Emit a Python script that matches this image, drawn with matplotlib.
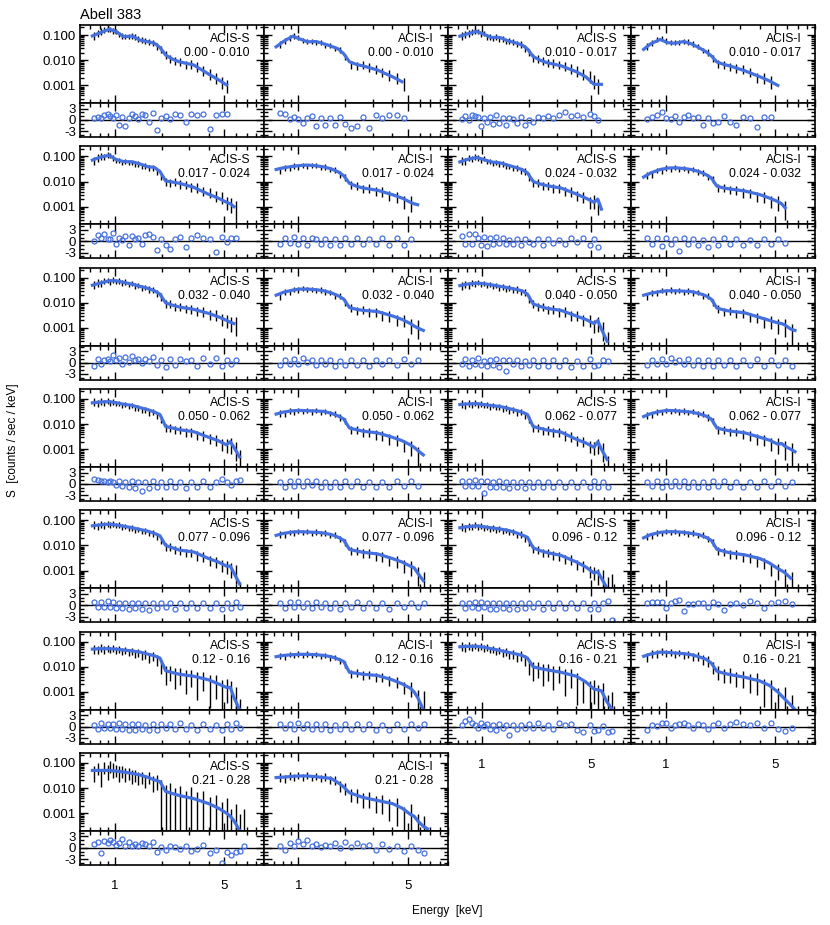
import numpy as np
import matplotlib
matplotlib.use("Agg")
import matplotlib.pyplot as plt
from matplotlib.ticker import FixedLocator, NullFormatter, FormatStrFormatter

plt.rcParams['font.family'] = ['Liberation Sans', 'DejaVu Sans']

# energy grids (keV)
E_MOD = [0.72, 0.80, 0.92, 1.02, 1.14, 1.30, 1.45, 1.62, 1.80, 1.95, 2.12,
         2.35, 2.60, 3.20, 4.00, 4.60, 5.20, 5.50, 5.80, 6.30, 6.70]
E_S = [0.74, 0.78, 0.82, 0.86, 0.90, 0.94, 0.98, 1.02, 1.07, 1.12, 1.17, 1.23,
       1.29, 1.35, 1.42, 1.49, 1.57, 1.66, 1.76, 1.87, 1.99, 2.12, 2.27, 2.44,
       2.63, 2.85, 3.10, 3.38, 3.70, 4.05, 4.45, 4.90, 5.20, 5.55, 5.95, 6.35, 6.75]
E_I = [0.76, 0.82, 0.88, 0.94, 1.00, 1.07, 1.14, 1.22, 1.30, 1.39, 1.49, 1.60,
       1.72, 1.85, 2.00, 2.17, 2.36, 2.58, 2.83, 3.12, 3.45, 3.82, 4.25, 4.72,
       5.25, 5.80, 6.40]

# fractional 1-sigma errors of the data points
ERR_S_A = [0.35, 0.32, 0.3, 0.28, 0.26, 0.25, 0.25, 0.24, 0.24, 0.24, 0.24, 0.24,
           0.24, 0.25, 0.25, 0.26, 0.26, 0.27, 0.28, 0.3, 0.32, 0.35, 0.35, 0.35,
           0.36, 0.37, 0.38, 0.4, 0.42, 0.44, 0.46, 0.5, 0.55, 0.6, 0.7, 0.8, 0.9]
ERR_S_B = [0.4, 0.35, 0.35, 0.32, 0.3, 0.3, 0.3, 0.3, 0.3, 0.3, 0.3, 0.32,
           0.32, 0.34, 0.35, 0.36, 0.38, 0.4, 0.42, 0.45, 0.6, 0.7, 0.6, 0.75,
           0.65, 0.8, 0.65, 0.85, 0.7, 0.9, 0.8, 1.2, 0.8, 1.3, 1.0, 1.5, 1.5]
ERR_S_C = [0.6, 0.5, 0.7, 0.5, 0.6, 0.5, 0.6, 0.5, 0.6, 0.5, 0.55, 0.5,
           0.55, 0.5, 0.55, 0.5, 0.55, 0.5, 0.6, 0.6, 1.5, 1.5, 1.3, 1.6,
           1.3, 1.6, 1.4, 1.7, 1.4, 1.8, 1.5, 2.0, 1.6, 2.0, 1.8, 2.0, 2.0]
ERR_I_A = [0.3, 0.27, 0.25, 0.24, 0.24, 0.23, 0.23, 0.23, 0.23, 0.24, 0.24, 0.25,
           0.26, 0.28, 0.3, 0.35, 0.35, 0.36, 0.38, 0.4, 0.42, 0.45, 0.48, 0.52,
           0.6, 0.7, 0.8]
ERR_I_B = [0.4, 0.35, 0.33, 0.32, 0.3, 0.3, 0.3, 0.3, 0.32, 0.33, 0.35, 0.37,
           0.4, 0.45, 0.5, 0.55, 0.55, 0.6, 0.6, 0.65, 0.7, 0.75, 0.85, 0.95,
           1.1, 1.3, 1.5]

# ---- 0.00 - 0.010
MOD_S1 = [0.092, 0.12, 0.17, 0.14, 0.086, 0.090, 0.063, 0.055, 0.047, 0.032, 0.016,
          0.011, 0.0086, 0.0065, 0.0028, 0.0017, 0.00105]
DAT_S1 = [0.10, 0.12, 0.14, 0.16, 0.18, 0.17, 0.15, 0.14, 0.11, 0.095, 0.09, 0.09,
          0.095, 0.085, 0.072, 0.066, 0.06, 0.055, 0.05, 0.037, 0.029, 0.017, 0.012,
          0.010, 0.0088, 0.0070, 0.0072, 0.0058, 0.0042, 0.0030, 0.0022, 0.0015, 0.0011]
RES_S1 = [0.5, 0.8, 0.6, 1.2, 1.6, 1.0, 0.5, 1.3, -1.2, 0.9, -1.5, 0.4, 1.5, 1.1, 0.3,
          1.7, 1.2, -0.5, 1.8, -2.6, 0.6, 1.0, 0.3, 1.6, 1.4, -0.5, 1.5, 1.3, 1.7, -2.4,
          1.2, 1.5, 1.7]
MOD_I1 = [0.034, 0.055, 0.090, 0.070, 0.054, 0.055, 0.045, 0.036, 0.028, 0.018, 0.0087,
          0.0068, 0.0059, 0.0041, 0.0022, 0.0014]
DAT_I1 = [0.045, 0.060, 0.080, 0.095, 0.080, 0.060, 0.055, 0.058, 0.050, 0.051, 0.040,
          0.039, 0.030, 0.027, 0.014, 0.0070, 0.0062, 0.0068, 0.0056, 0.0046, 0.0036,
          0.0028, 0.0021, 0.0013]
RES_I1 = [1.8, 1.7, 0.3, 0.8, 0.3, -0.8, 0.5, 1.0, -1.5, 0.4, -1.2, 0.6, -1.3, 0.8,
          -1.0, -2.0, -1.6, 0.9, -2.0, 1.2, 0.6, 1.4, 1.2, 0.6]

# ---- 0.010 - 0.017
MOD_S2 = [0.090, 0.11, 0.14, 0.11, 0.080, 0.080, 0.060, 0.050, 0.040, 0.028, 0.014,
          0.010, 0.008, 0.006, 0.0035, 0.0022, 0.0011, 0.0011, 0.0011]
DAT_S2 = [0.10, 0.11, 0.12, 0.14, 0.15, 0.14, 0.11, 0.12, 0.085, 0.085, 0.075, 0.085,
          0.07, 0.072, 0.058, 0.062, 0.055, 0.045, 0.044, 0.031, 0.021, 0.013, 0.012,
          0.0098, 0.0085, 0.0078, 0.0070, 0.0062, 0.0050, 0.0040, 0.0030, 0.0024,
          0.0016, 0.0011]
RES_S2 = [0.3, 1.0, 0.1, 1.2, 1.0, 0.8, -1.5, 0.6, -0.4, 0.9, -1.0, 1.2, -0.7, 0.4,
          -1.3, 0.6, 0.3, -0.8, 0.9, -1.4, 0.0, -0.6, 0.9, 0.5, 1.0, 0.4, 1.4, 2.2,
          1.0, 1.2, 0.8, 1.6, 1.0, 0.0]
MOD_I2 = [0.027, 0.045, 0.067, 0.050, 0.047, 0.055, 0.045, 0.032, 0.022, 0.015, 0.0085,
          0.0068, 0.0058, 0.0038, 0.0022, 0.0015, 0.0010]
DAT_I2 = [0.036, 0.050, 0.068, 0.075, 0.060, 0.050, 0.052, 0.050, 0.058, 0.055, 0.046,
          0.036, 0.025, 0.021, 0.012, 0.0078, 0.0072, 0.0058, 0.0050, 0.0048, 0.0036,
          0.0022, 0.0021, 0.0015]
RES_I2 = [0.2, 0.8, 1.2, 2.0, 0.5, 0.3, 1.0, -0.5, 0.9, 1.3, 0.6, 0.8, -1.2, 0.4,
          -0.8, -0.5, 1.0, -0.6, -1.4, 0.8, 0.6, -1.8, 0.9, 0.7]

# ---- 0.017 - 0.024
MOD_S3 = [0.071, 0.09, 0.11, 0.075, 0.062, 0.060, 0.050, 0.039, 0.036, 0.025, 0.0105,
          0.0095, 0.0085, 0.0059, 0.0031, 0.0022, 0.0015, 0.0013, 0.0010]
DAT_S3 = [0.068, 0.090, 0.10, 0.095, 0.12, 0.11, 0.09, 0.072, 0.07, 0.06, 0.066, 0.058,
          0.06, 0.05, 0.05, 0.041, 0.042, 0.035, 0.036, 0.025, 0.017, 0.0098, 0.0094,
          0.0098, 0.0082, 0.0080, 0.0062, 0.0060, 0.0044, 0.0040, 0.0028, 0.0026,
          0.0016, 0.0014, 0.0010]
RES_S3 = [0.0, 1.6, 1.0, 2.0, 0.6, 0.7, 2.2, -0.8, 0.9, 0.3, 1.5, -1.0, 1.4, 0.5, 0.8,
          -0.6, 1.6, 1.8, 1.2, -2.2, 0.7, -1.0, -2.0, 0.6, 1.2, -1.5, 0.8, 1.7, 1.0,
          0.7, -2.8, 1.2, -0.2, 0.8, 1.0]
MOD_I3 = [0.030, 0.035, 0.040, 0.043, 0.045, 0.042, 0.038, 0.032, 0.024, 0.017, 0.0085,
          0.0065, 0.0055, 0.0045, 0.0030, 0.0022, 0.0015, 0.0013, 0.0012]
DAT_I3 = [0.028, 0.036, 0.034, 0.042, 0.038, 0.045, 0.040, 0.046, 0.044, 0.038, 0.039,
          0.031, 0.030, 0.020, 0.015, 0.0078, 0.0070, 0.0054, 0.0056, 0.0043, 0.0042,
          0.0030, 0.0027, 0.0017, 0.0016]
RES_I3 = [-0.6, 0.9, -0.5, 1.2, -0.7, 0.8, -1.0, 0.9, 0.5, -0.8, 0.6, -1.0, 0.7, -0.9,
          0.8, -0.6, 1.0, -0.8, 0.7, -0.7, 0.9, -0.9, 0.8, -1.1, 0.5]

# ---- 0.024 - 0.032
MOD_S4 = [0.060, 0.075, 0.090, 0.075, 0.060, 0.055, 0.045, 0.037, 0.030, 0.022, 0.010,
          0.008, 0.0068, 0.0055, 0.0032, 0.0022, 0.0015, 0.0020, 0.0008]
DAT_S4 = [0.070, 0.065, 0.090, 0.080, 0.10, 0.09, 0.075, 0.082, 0.065, 0.066, 0.055,
          0.060, 0.05, 0.052, 0.042, 0.041, 0.034, 0.035, 0.027, 0.026, 0.016, 0.0095,
          0.0092, 0.0070, 0.0072, 0.0058, 0.0056, 0.0044, 0.0042, 0.0030, 0.0026,
          0.0016, 0.0018, 0.0012]
RES_S4 = [1.5, -0.8, 2.0, -0.6, 1.8, 0.9, -0.9, 1.2, -1.2, 0.8, -0.7, 1.1, -0.4, 0.9,
          -0.6, 0.4, -0.8, 0.6, -1.0, 0.5, -0.3, -0.6, 0.5, -1.0, 0.6, -0.5, 0.4, -0.6,
          1.0, -0.3, 0.8, -0.9, 0.5, -1.6]
MOD_I4 = [0.015, 0.022, 0.030, 0.034, 0.035, 0.033, 0.030, 0.025, 0.019, 0.014, 0.0065,
          0.0055, 0.005, 0.0042, 0.0030, 0.0022, 0.0016, 0.0013, 0.0009]
DAT_I4 = [0.018, 0.019, 0.028, 0.026, 0.035, 0.032, 0.037, 0.031, 0.035, 0.029, 0.031,
          0.024, 0.023, 0.016, 0.013, 0.0058, 0.0060, 0.0048, 0.0049, 0.0038, 0.0037,
          0.0027, 0.0027, 0.0018, 0.0017, 0.0010]
RES_I4 = [0.8, -0.6, 1.0, -1.2, 0.9, -0.6, 0.7, -2.5, 0.8, -0.8, 0.6, -1.1, 0.4, -1.5,
          0.6, -0.9, 0.8, -0.7, 0.5, -1.0, 0.4, -0.9, 0.6, -0.8, 0.5, -0.5]

# ---- 0.032 - 0.040
MOD_S5 = [0.050, 0.060, 0.075, 0.075, 0.065, 0.055, 0.045, 0.038, 0.030, 0.022, 0.010,
          0.008, 0.0068, 0.0055, 0.0038, 0.0028, 0.0020, 0.0017, 0.0015]
DAT_S5 = [0.055, 0.065, 0.06, 0.075, 0.08, 0.07, 0.085, 0.072, 0.075, 0.062, 0.068,
          0.055, 0.06, 0.048, 0.05, 0.04, 0.042, 0.035, 0.034, 0.025, 0.018, 0.0095,
          0.0094, 0.0074, 0.0073, 0.0060, 0.0060, 0.0049, 0.0046, 0.0036, 0.0034,
          0.0024, 0.0022, 0.0017, 0.0016]
RES_S5 = [-0.8, 0.9, -0.5, 0.6, 1.0, 0.3, 2.0, 0.6, 1.3, -0.4, 1.6, 0.2, 1.8, 0.7, 1.0,
          -0.2, 0.9, 0.5, 1.5, -0.7, 0.8, -1.2, 0.9, -0.6, 1.0, 0.3, 0.8, -0.8, 1.3,
          -0.5, 1.1, -1.0, 0.8, -0.3, 0.6]
MOD_I5 = [0.020, 0.026, 0.032, 0.035, 0.035, 0.033, 0.030, 0.025, 0.019, 0.014, 0.0065,
          0.0055, 0.0050, 0.0045, 0.0030, 0.0022, 0.0015, 0.0012, 0.0010, 0.0008]
DAT_I5 = [0.019, 0.027, 0.028, 0.035, 0.033, 0.038, 0.034, 0.036, 0.031, 0.033, 0.028,
          0.027, 0.020, 0.019, 0.011, 0.0066, 0.0052, 0.0054, 0.0044, 0.0044, 0.0034,
          0.0032, 0.0023, 0.0022, 0.0014, 0.0012]
RES_I5 = [-0.7, 0.6, -0.4, 0.9, -0.3, 1.2, 0.2, 0.8, -0.6, 0.7, -0.4, 0.6, -0.9, 0.5,
          -0.7, 0.8, -0.6, 0.7, -0.8, 0.6, -0.5, 0.8, -0.7, 0.9, -0.5, 0.6]

# ---- 0.040 - 0.050
MOD_S6 = [0.048, 0.055, 0.060, 0.058, 0.052, 0.045, 0.040, 0.035, 0.030, 0.022, 0.009,
          0.0072, 0.0060, 0.0050, 0.0030, 0.0022, 0.0015, 0.0020, 0.0009, 0.0003]
DAT_S6 = [0.048, 0.058, 0.052, 0.062, 0.058, 0.066, 0.055, 0.060, 0.050, 0.056, 0.046,
          0.050, 0.040, 0.044, 0.036, 0.040, 0.033, 0.035, 0.028, 0.027, 0.015, 0.0095,
          0.0072, 0.0072, 0.0057, 0.0058, 0.0046, 0.0047, 0.0034, 0.0033, 0.0023,
          0.0021, 0.0014, 0.0017, 0.0010, 0.0004]
RES_S6 = [-0.4, 0.9, -0.8, 0.7, -0.3, 1.1, -0.6, 0.5, -0.9, 0.8, -0.6, 0.9, -1.2, 0.7,
          -2.2, 0.6, -0.5, 0.6, -1.0, 0.4, -0.7, 0.6, -1.0, 0.8, -0.8, 0.6, -1.0, 0.7,
          -1.1, 0.4, -0.8, 0.9, -0.9, -0.6, 0.8, 0.5]
MOD_I6 = [0.020, 0.024, 0.028, 0.030, 0.030, 0.029, 0.028, 0.024, 0.019, 0.014, 0.0062,
          0.0052, 0.0046, 0.0040, 0.0026, 0.0020, 0.0016, 0.0015, 0.0013, 0.0009, 0.0008]
DAT_I6 = [0.019, 0.026, 0.025, 0.031, 0.028, 0.033, 0.029, 0.031, 0.027, 0.030, 0.025,
          0.027, 0.020, 0.019, 0.011, 0.0062, 0.0047, 0.0049, 0.0039, 0.0040, 0.0029,
          0.0028, 0.0019, 0.0019, 0.0014, 0.0014, 0.0008]
RES_I6 = [-0.6, 0.8, -0.4, 1.0, -0.3, 1.3, 0.2, 0.8, -0.5, 0.9, -0.7, 0.8, -0.9, 0.6,
          -0.8, 0.7, -0.7, 0.6, -0.9, 0.6, -0.7, 0.9, -0.8, 0.7, -0.6, 0.6, -0.8]

# ---- 0.050 - 0.062
MOD_S7 = [0.070, 0.075, 0.078, 0.070, 0.062, 0.055, 0.045, 0.038, 0.030, 0.024, 0.008,
          0.007, 0.0060, 0.0050, 0.0030, 0.0022, 0.0015, 0.0020, 0.0012, 0.0005]
DAT_S7 = [0.078, 0.070, 0.082, 0.074, 0.085, 0.072, 0.079, 0.066, 0.068, 0.058, 0.063,
          0.052, 0.055, 0.044, 0.046, 0.038, 0.038, 0.030, 0.031, 0.023, 0.016, 0.0075,
          0.0077, 0.0060, 0.0062, 0.0050, 0.0051, 0.0039, 0.0038, 0.0028, 0.0026,
          0.0017, 0.0016, 0.0017, 0.0011, 0.0005]
RES_S7 = [1.2, 1.0, 0.8, 0.9, 0.6, 0.7, 0.4, -0.3, 0.8, -0.6, 0.5, -0.8, 0.7, -1.2, 0.5,
          -2.0, 0.6, -1.0, 0.7, -0.8, 0.6, -0.9, 0.8, -0.7, 0.6, -1.0, 0.5, -0.8, 0.7,
          -0.9, 0.6, 1.2, 0.5, -0.4, 0.9, 1.0]
MOD_I7 = [0.025, 0.030, 0.034, 0.035, 0.034, 0.033, 0.032, 0.027, 0.021, 0.016, 0.007,
          0.006, 0.0052, 0.0045, 0.0030, 0.0022, 0.0015, 0.0012, 0.0009, 0.0006]
DAT_I7 = [0.028, 0.027, 0.034, 0.031, 0.036, 0.032, 0.036, 0.031, 0.035, 0.030, 0.033,
          0.027, 0.026, 0.019, 0.014, 0.0064, 0.0062, 0.0050, 0.0051, 0.0040, 0.0037,
          0.0027, 0.0025, 0.0016, 0.0013, 0.0007]
RES_I7 = [0.6, -0.7, 0.9, -0.5, 0.8, -0.6, 0.7, -0.4, 0.8, -0.7, 0.6, -0.9, 0.4, -0.8,
          0.7, -0.6, 0.8, -0.7, 0.6, -0.8, 0.5, -0.9, 0.7, -0.6, 0.8, -0.5]

# ---- 0.062 - 0.077
MOD_S8 = [0.060, 0.063, 0.065, 0.060, 0.055, 0.050, 0.043, 0.036, 0.030, 0.024, 0.008,
          0.0068, 0.0058, 0.0048, 0.0025, 0.0018, 0.0012, 0.0020, 0.0010, 0.0004]
DAT_S8 = [0.066, 0.058, 0.068, 0.060, 0.070, 0.060, 0.066, 0.056, 0.060, 0.050, 0.055,
          0.047, 0.050, 0.041, 0.044, 0.035, 0.037, 0.030, 0.031, 0.023, 0.016, 0.0076,
          0.0075, 0.0059, 0.0060, 0.0049, 0.0050, 0.0037, 0.0035, 0.0024, 0.0022,
          0.0014, 0.0013, 0.0016, 0.0010, 0.0003]
RES_S8 = [0.8, -0.6, 0.9, -0.6, 1.0, -0.5, 0.8, -2.3, 0.7, -0.9, 0.6, -0.8, 0.7, -0.9,
          0.6, -1.0, 0.5, -0.8, 0.6, -1.0, 0.5, -0.7, 0.6, -0.9, 0.6, -0.7, 0.5, -0.9,
          0.6, -0.8, 0.5, -0.9, 0.7, -0.8, 0.6, -0.9]
MOD_I8 = [0.020, 0.026, 0.032, 0.035, 0.034, 0.032, 0.030, 0.026, 0.021, 0.016, 0.007,
          0.006, 0.0053, 0.0045, 0.0030, 0.0023, 0.0016, 0.0017, 0.0013, 0.0010, 0.0008]
DAT_I8 = [0.023, 0.024, 0.031, 0.030, 0.036, 0.032, 0.036, 0.031, 0.034, 0.029, 0.032,
          0.026, 0.026, 0.019, 0.014, 0.0065, 0.0062, 0.0051, 0.0052, 0.0041, 0.0038,
          0.0028, 0.0026, 0.0018, 0.0017, 0.0013, 0.0010]
RES_I8 = [0.5, -0.6, 0.8, -0.7, 0.9, -0.5, 0.7, -0.6, 0.8, -0.7, 0.6, -0.8, 0.5, -0.7,
          0.8, -0.6, 0.7, -0.8, 0.6, -0.7, 0.5, -0.9, 0.7, -0.6, 0.8, -0.5, 0.6]

# ---- 0.077 - 0.096
MOD_S9 = [0.060, 0.065, 0.070, 0.065, 0.058, 0.050, 0.043, 0.037, 0.030, 0.024, 0.010,
          0.008, 0.0065, 0.0055, 0.0030, 0.0022, 0.0015, 0.0015, 0.0008, 0.0003]
DAT_S9 = [0.066, 0.060, 0.072, 0.065, 0.076, 0.066, 0.072, 0.062, 0.066, 0.055, 0.058,
          0.048, 0.051, 0.042, 0.044, 0.037, 0.038, 0.031, 0.031, 0.023, 0.017, 0.0093,
          0.0089, 0.0069, 0.0067, 0.0055, 0.0054, 0.0041, 0.0037, 0.0027, 0.0024,
          0.0017, 0.0016, 0.0013, 0.0010, 0.0002]
RES_S9 = [0.8, -0.6, 0.9, -0.5, 1.0, -0.6, 0.8, -0.7, 0.7, -0.8, 0.6, -1.0, 0.7, -0.8,
          0.6, -0.9, 0.5, -1.2, 0.6, -0.8, 0.7, -0.6, 0.5, -0.9, 0.6, -0.7, 0.5, -0.8,
          0.6, -0.7, 0.5, -0.9, 0.6, -0.7, 0.8, -0.6]
MOD_I9 = [0.025, 0.030, 0.034, 0.035, 0.034, 0.033, 0.031, 0.027, 0.021, 0.016, 0.007,
          0.006, 0.0053, 0.0046, 0.0030, 0.0022, 0.0015, 0.0013, 0.0008, 0.0004]
DAT_I9 = [0.028, 0.027, 0.034, 0.032, 0.037, 0.033, 0.036, 0.031, 0.035, 0.030, 0.032,
          0.026, 0.026, 0.019, 0.014, 0.0064, 0.0062, 0.0051, 0.0052, 0.0040, 0.0038,
          0.0027, 0.0025, 0.0017, 0.0015, 0.0008, 0.0005]
RES_I9 = [0.6, -0.7, 0.8, -0.5, 0.9, -0.6, 0.7, -0.7, 0.8, -0.6, 0.7, -0.8, 0.5, -0.9,
          0.7, -0.6, 0.8, -0.7, 0.6, -0.8, 0.5, -0.9, 0.7, -0.6, 0.7, -0.5, 0.6]

# ---- 0.096 - 0.12
MOD_S10 = [0.050, 0.055, 0.060, 0.055, 0.050, 0.045, 0.040, 0.033, 0.026, 0.021, 0.008,
           0.0062, 0.0052, 0.0040, 0.0022, 0.0014, 0.0008, 0.0009, 0.0005, 0.0002]
DAT_S10 = [0.055, 0.050, 0.061, 0.055, 0.065, 0.056, 0.061, 0.051, 0.054, 0.046, 0.050,
           0.042, 0.046, 0.038, 0.041, 0.034, 0.035, 0.027, 0.028, 0.020, 0.014, 0.0074,
           0.0070, 0.0055, 0.0054, 0.0042, 0.0040, 0.0030, 0.0028, 0.0019, 0.0017,
           0.0010, 0.0009, 0.0007, 0.0006, 0.0003, 0.0004]
RES_S10 = [0.6, -0.8, 0.7, -0.6, 0.9, -0.7, 0.8, -0.5, 0.7, -0.9, 0.6, -1.1, 0.7, -0.8,
           0.6, -0.9, 0.5, -1.0, 0.6, -0.8, 0.7, -0.6, 0.5, -0.9, 0.6, -0.7, 0.5, -0.8,
           0.6, -0.7, 0.5, -0.9, 0.6, -1.0, 0.7, 1.2, -4.0]
MOD_I10 = [0.020, 0.027, 0.033, 0.035, 0.035, 0.033, 0.030, 0.027, 0.021, 0.016, 0.007,
           0.0058, 0.0050, 0.0042, 0.0030, 0.0020, 0.0012, 0.0010, 0.0008, 0.0005]
DAT_I10 = [0.023, 0.025, 0.032, 0.031, 0.037, 0.033, 0.036, 0.031, 0.034, 0.029, 0.032,
           0.026, 0.026, 0.019, 0.014, 0.0062, 0.0059, 0.0047, 0.0048, 0.0037, 0.0036,
           0.0026, 0.0022, 0.0013, 0.0011, 0.0007, 0.0005]
RES_I10 = [0.5, 0.8, 0.8, 0.8, -0.7, 0.5, 1.0, 1.5, -1.5, 0.2, 0.3, 0.6, 0.7, -0.5, 0.8,
           0.4, -1.3, 0.3, 0.7, 0.0, 1.2, 0.6, -0.8, 0.5, 0.8, 1.2, 0.4]

# ---- 0.12 - 0.16
MOD_S11 = [0.050, 0.052, 0.052, 0.050, 0.046, 0.042, 0.038, 0.032, 0.027, 0.022, 0.007,
           0.0058, 0.0050, 0.0042, 0.0030, 0.0021, 0.0015, 0.0015, 0.0006, 0.0002]
DAT_S11 = [0.054, 0.048, 0.058, 0.049, 0.057, 0.048, 0.055, 0.046, 0.051, 0.042, 0.047,
           0.038, 0.043, 0.034, 0.038, 0.029, 0.032, 0.024, 0.028, 0.020, 0.013, 0.0065,
           0.0067, 0.0050, 0.0055, 0.0042, 0.0046, 0.0033, 0.0036, 0.0024, 0.0025,
           0.0014, 0.0018, 0.0012, 0.0008, 0.0002]
RES_S11 = [0.5, -0.6, 0.8, -0.4, 0.7, -0.5, 0.6, -0.7, 0.8, -0.6, 0.7, -0.9, 0.6, -0.8,
           0.7, -0.7, 0.5, -1.0, 0.6, -0.8, 0.7, -0.5, 0.6, -0.7, 0.8, -0.6, 0.5, -0.8,
           0.6, -0.7, 0.5, -1.0, 0.7, -0.6, 0.8, -0.5]
MOD_I11 = [0.025, 0.028, 0.030, 0.031, 0.031, 0.030, 0.028, 0.025, 0.020, 0.016, 0.006,
           0.0055, 0.0050, 0.0045, 0.0030, 0.0021, 0.0014, 0.0010, 0.0006, 0.0002]
DAT_I11 = [0.028, 0.026, 0.031, 0.028, 0.033, 0.029, 0.033, 0.028, 0.031, 0.026, 0.029,
           0.023, 0.024, 0.018, 0.013, 0.0055, 0.0058, 0.0048, 0.0051, 0.0041, 0.0041,
           0.0030, 0.0027, 0.0017, 0.0015, 0.0007, 0.0006]
RES_I11 = [0.6, -0.5, 0.7, -0.6, 0.8, -0.5, 0.7, -0.6, 0.6, -0.7, 0.7, -0.8, 0.5, -0.7,
           0.6, -0.6, 0.7, -0.7, 0.6, -0.8, 0.5, -0.8, 0.6, -0.7, 0.7, -0.5, 0.6]

# ---- 0.16 - 0.21
MOD_S12 = [0.062, 0.064, 0.065, 0.060, 0.052, 0.044, 0.038, 0.033, 0.028, 0.022, 0.0099,
           0.0085, 0.0075, 0.0060, 0.0042, 0.0025, 0.0013, 0.0012, 0.0011, 0.0004, 0.00023]
DAT_S12 = [0.068, 0.060, 0.072, 0.060, 0.070, 0.058, 0.068, 0.055, 0.060, 0.048, 0.052,
           0.042, 0.046, 0.036, 0.040, 0.032, 0.034, 0.026, 0.029, 0.020, 0.012, 0.0090,
           0.0092, 0.0070, 0.0078, 0.0058, 0.0062, 0.0045, 0.0048, 0.0030, 0.0018,
           0.0012, 0.0016, 0.0008, 0.0011, 0.0003, 0.0004]
RES_S12 = [0.5, 1.5, 2.0, 0.8, 0.5, -0.4, 0.9, 0.2, 0.7, -0.6, 0.5, -0.8, 0.6, -0.5, 0.4,
           -2.2, 0.3, -0.6, 0.5, -0.3, 0.6, -0.5, 0.8, -0.4, 0.5, -0.6, 0.9, 0.4, 0.6,
           -1.0, -1.4, 0.4, -1.2, -0.9, 0.2, -1.5, -1.2]
MOD_I12 = [0.026, 0.032, 0.038, 0.037, 0.035, 0.033, 0.030, 0.025, 0.020, 0.014, 0.0066,
           0.0055, 0.0048, 0.0038, 0.0027, 0.0018, 0.0010, 0.0007, 0.0005, 0.0003, 0.0002]
DAT_I12 = [0.026, 0.035, 0.034, 0.041, 0.035, 0.039, 0.033, 0.037, 0.030, 0.033, 0.026,
           0.027, 0.020, 0.018, 0.010, 0.0068, 0.0052, 0.0054, 0.0040, 0.0042, 0.0030,
           0.0031, 0.0017, 0.0015, 0.0007, 0.0007, 0.0003]
RES_I12 = [-1.0, 0.3, 0.2, 0.8, 0.8, -0.4, 0.5, 0.6, 0.9, 0.3, -0.5, 0.7, 0.4, -0.6,
           0.5, 0.8, -0.3, 0.6, 1.3, 0.6, 0.4, 0.9, -0.5, 0.8, -0.6, -1.3, -0.5]

# ---- 0.21 - 0.28
MOD_S13 = [0.050, 0.050, 0.050, 0.047, 0.043, 0.038, 0.033, 0.027, 0.021, 0.018, 0.0073,
           0.0060, 0.0050, 0.0038, 0.0024, 0.0016, 0.0010, 0.00076, 0.0005, 0.00021]
DAT_S13 = [0.045, 0.065, 0.035, 0.070, 0.050, 0.080, 0.060, 0.055, 0.045, 0.050, 0.040,
           0.042, 0.032, 0.035, 0.028, 0.030, 0.022, 0.028, 0.018, 0.020, 0.008, 0.0055,
           0.0070, 0.0040, 0.0052, 0.0030, 0.0045, 0.0025, 0.0033, 0.0016, 0.0022,
           0.0009, 0.0015, 0.0005, 0.0008, 0.0003, 0.0005]
RES_S13 = [1.0, 1.5, -1.5, 1.8, 1.2, 2.0, 1.6, 0.8, 1.2, 2.2, 0.5, 1.5, 0.4, 1.0, 0.6,
           1.2, 0.9, 0.4, 1.5, -1.2, 0.3, -0.6, 0.6, 0.2, -0.4, 0.5, -0.8, -0.3, 0.8,
           -1.5, -0.5, -4.0, -1.0, -2.0, -1.2, -0.8, 0.5]
MOD_I13 = [0.026, 0.027, 0.029, 0.030, 0.030, 0.028, 0.026, 0.024, 0.016, 0.011, 0.0065,
           0.0052, 0.0042, 0.0032, 0.0024, 0.0016, 0.0009, 0.00076, 0.0005, 0.0003, 0.00024]
DAT_I13 = [0.028, 0.025, 0.032, 0.027, 0.034, 0.028, 0.033, 0.026, 0.031, 0.025, 0.028,
           0.022, 0.022, 0.013, 0.011, 0.0060, 0.0058, 0.0040, 0.0042, 0.0029, 0.0032,
           0.0020, 0.0021, 0.0009, 0.0011, 0.0004, 0.0003]
RES_I13 = [0.6, -0.6, 1.2, 0.5, 1.8, 1.0, 2.0, 0.4, 1.0, 0.2, 0.8, 0.5, 1.2, 0.0, 1.5,
           0.3, 1.2, 0.5, 0.8, -0.5, 1.0, -0.3, 0.6, -0.8, 0.6, -0.5, -1.5]

# (row, col, detector, annulus, bin energies, model, data, error, residuals)
PANELS = [
    (0, 0, "ACIS-S", "0.00 - 0.010", E_S, MOD_S1, DAT_S1, ERR_S_A, RES_S1),
    (0, 1, "ACIS-I", "0.00 - 0.010", E_I, MOD_I1, DAT_I1, ERR_I_A, RES_I1),
    (0, 2, "ACIS-S", "0.010 - 0.017", E_S, MOD_S2, DAT_S2, ERR_S_A, RES_S2),
    (0, 3, "ACIS-I", "0.010 - 0.017", E_I, MOD_I2, DAT_I2, ERR_I_A, RES_I2),
    (1, 0, "ACIS-S", "0.017 - 0.024", E_S, MOD_S3, DAT_S3, ERR_S_A, RES_S3),
    (1, 1, "ACIS-I", "0.017 - 0.024", E_I, MOD_I3, DAT_I3, ERR_I_A, RES_I3),
    (1, 2, "ACIS-S", "0.024 - 0.032", E_S, MOD_S4, DAT_S4, ERR_S_A, RES_S4),
    (1, 3, "ACIS-I", "0.024 - 0.032", E_I, MOD_I4, DAT_I4, ERR_I_A, RES_I4),
    (2, 0, "ACIS-S", "0.032 - 0.040", E_S, MOD_S5, DAT_S5, ERR_S_A, RES_S5),
    (2, 1, "ACIS-I", "0.032 - 0.040", E_I, MOD_I5, DAT_I5, ERR_I_A, RES_I5),
    (2, 2, "ACIS-S", "0.040 - 0.050", E_S, MOD_S6, DAT_S6, ERR_S_A, RES_S6),
    (2, 3, "ACIS-I", "0.040 - 0.050", E_I, MOD_I6, DAT_I6, ERR_I_A, RES_I6),
    (3, 0, "ACIS-S", "0.050 - 0.062", E_S, MOD_S7, DAT_S7, ERR_S_A, RES_S7),
    (3, 1, "ACIS-I", "0.050 - 0.062", E_I, MOD_I7, DAT_I7, ERR_I_A, RES_I7),
    (3, 2, "ACIS-S", "0.062 - 0.077", E_S, MOD_S8, DAT_S8, ERR_S_A, RES_S8),
    (3, 3, "ACIS-I", "0.062 - 0.077", E_I, MOD_I8, DAT_I8, ERR_I_A, RES_I8),
    (4, 0, "ACIS-S", "0.077 - 0.096", E_S, MOD_S9, DAT_S9, ERR_S_A, RES_S9),
    (4, 1, "ACIS-I", "0.077 - 0.096", E_I, MOD_I9, DAT_I9, ERR_I_A, RES_I9),
    (4, 2, "ACIS-S", "0.096 - 0.12", E_S, MOD_S10, DAT_S10, ERR_S_A, RES_S10),
    (4, 3, "ACIS-I", "0.096 - 0.12", E_I, MOD_I10, DAT_I10, ERR_I_A, RES_I10),
    (5, 0, "ACIS-S", "0.12 - 0.16", E_S, MOD_S11, DAT_S11, ERR_S_B, RES_S11),
    (5, 1, "ACIS-I", "0.12 - 0.16", E_I, MOD_I11, DAT_I11, ERR_I_A, RES_I11),
    (5, 2, "ACIS-S", "0.16 - 0.21", E_S, MOD_S12, DAT_S12, ERR_S_B, RES_S12),
    (5, 3, "ACIS-I", "0.16 - 0.21", E_I, MOD_I12, DAT_I12, ERR_I_B, RES_I12),
    (6, 0, "ACIS-S", "0.21 - 0.28", E_S, MOD_S13, DAT_S13, ERR_S_C, RES_S13),
    (6, 1, "ACIS-I", "0.21 - 0.28", E_I, MOD_I13, DAT_I13, ERR_I_B, RES_I13),
]

BLUE = "#4470e0"
W, H = 830, 925
LEFT, COLW = 80, 183.75
TOP0, PITCH, SPEC_H, RES_H = 25, 121.3, 78, 34
X_MINOR = [0.7, 0.8, 0.9, 2, 3, 4, 6, 7, 8, 9]

fig = plt.figure(figsize=(W / 100, H / 100), dpi=100)


def box(x0, y0, w, h):
    return [x0 / W, 1 - (y0 + h) / H, w / W, h / H]


def style(ax):
    ax.set_xscale("log")
    ax.set_xlim(0.6, 9.0)
    ax.xaxis.set_major_locator(FixedLocator([1, 5]))
    ax.xaxis.set_minor_locator(FixedLocator(X_MINOR))
    ax.xaxis.set_major_formatter(NullFormatter())
    ax.xaxis.set_minor_formatter(NullFormatter())
    ax.tick_params(which="both", direction="in", top=True, right=True,
                   width=1.0, labelsize=9.5, pad=3)
    ax.tick_params(which="major", length=6)
    ax.tick_params(which="minor", length=3)
    for sp in ax.spines.values():
        sp.set_linewidth(1.2)


last_row = {0: 6, 1: 6, 2: 5, 3: 5}

for row, col, det, ann, en, mod, dat, err, res in PANELS:
    x0 = LEFT + col * COLW
    y0 = TOP0 + row * PITCH
    ax = fig.add_axes(box(x0, y0, COLW, SPEC_H))
    rx = fig.add_axes(box(x0, y0 + SPEC_H, COLW, RES_H))
    style(ax)
    style(rx)

    # spectrum with error bars and model
    n = len(dat)
    e = np.array(en[:n])
    d = np.array(dat)
    f = np.array(err[:n])
    lo = np.clip(d * (1 - f), 1e-6, None)
    hi = d * (1 + f)
    ax.vlines(e, lo, hi, color="black", lw=1.0)
    ax.plot(E_MOD[:len(mod)], mod, color=BLUE, lw=2.3, solid_joinstyle="round")
    ax.set_yscale("log")
    ax.set_ylim(2e-4, 0.25)
    ax.yaxis.set_major_locator(FixedLocator([0.001, 0.01, 0.1]))
    ax.yaxis.set_minor_locator(FixedLocator(
        [m * 10.0 ** k for k in (-4, -3, -2, -1) for m in range(2, 10)]))
    ax.yaxis.set_minor_formatter(NullFormatter())
    if col == 0:
        ax.yaxis.set_major_formatter(FormatStrFormatter("%.3f"))
    else:
        ax.yaxis.set_major_formatter(NullFormatter())
    ax.text(0.925, 0.82, det, transform=ax.transAxes, ha="right", va="center",
            fontsize=8.7)
    ax.text(0.925, 0.64, ann, transform=ax.transAxes, ha="right", va="center",
            fontsize=8.7)

    # residuals
    rx.axhline(0, color="black", lw=1.0)
    rx.plot(en[:len(res)], res, "o", mfc="none", mec=BLUE, ms=3.6, mew=0.9)
    rx.set_ylim(-4.5, 4.5)
    rx.yaxis.set_major_locator(FixedLocator([-3, 0, 3]))
    rx.yaxis.set_minor_locator(FixedLocator([-4, -2, -1, 1, 2, 4]))
    if col == 0:
        rx.yaxis.set_major_formatter(FormatStrFormatter("%d"))
    else:
        rx.yaxis.set_major_formatter(NullFormatter())
    if row == last_row[col]:
        rx.xaxis.set_major_formatter(FormatStrFormatter("%d"))
        rx.tick_params(axis="x", which="major", pad=11)

fig.text(LEFT / W, 1 - 15 / H, "Abell 383", fontsize=10.5, ha="left", va="center")
fig.text(447 / W, 1 - 911 / H, "Energy  [keV]", fontsize=8.5, ha="center", va="center")
fig.text(13 / W, 1 - 440 / H, "S  [counts / sec / keV]", fontsize=8.5,
         rotation=90, ha="center", va="center")

fig.savefig("out.png", dpi=100)
